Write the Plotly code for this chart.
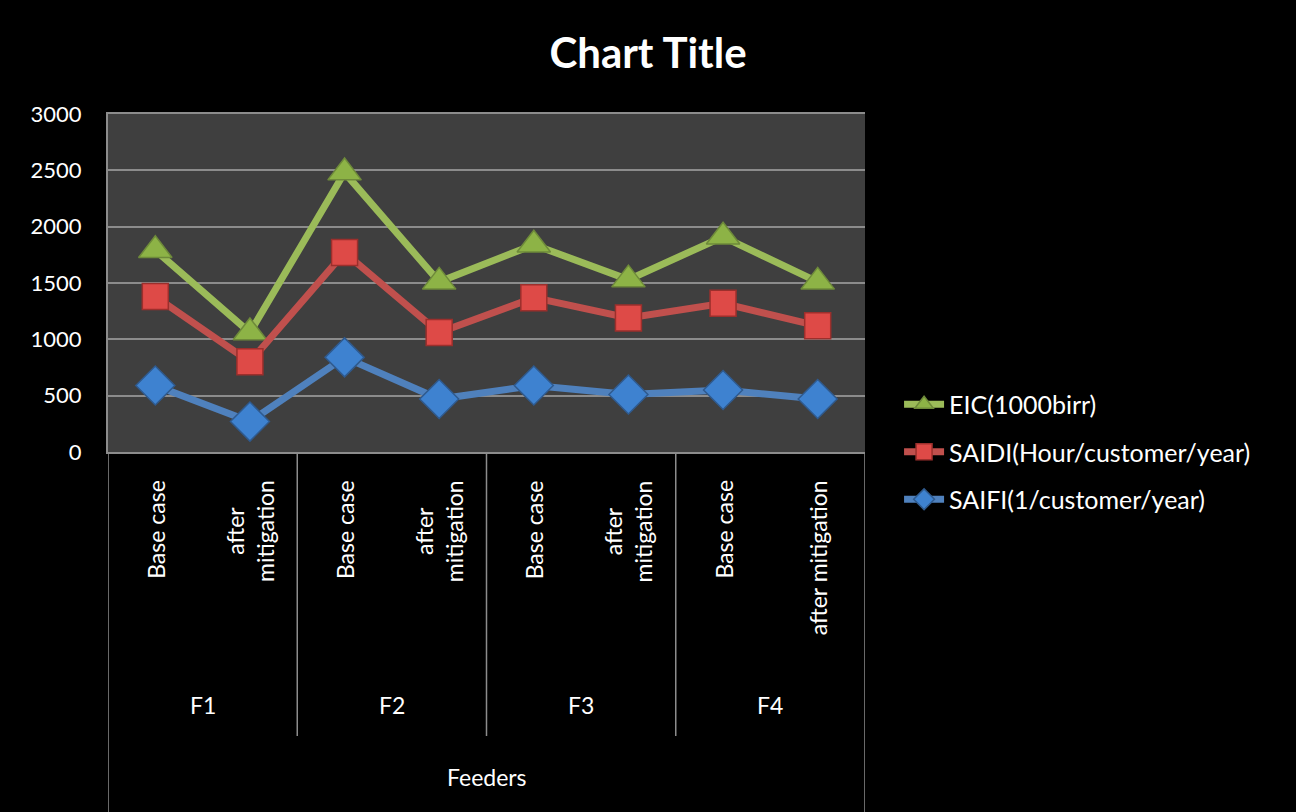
# reliability indices per feeder, base case vs after mitigation

import plotly.graph_objects as go

FEEDERS = ["F1", "F2", "F3", "F4"]
CASES = ["Base case", "after<br>mitigation", "Base case", "after<br>mitigation",
         "Base case", "after<br>mitigation", "Base case", "after mitigation"]
Y_TICKS = [0, 500, 1000, 1500, 2000, 2500, 3000]

EIC = [1790, 1060, 2480, 1510, 1840, 1530, 1910, 1510]
SAIDI = [1380, 800, 1770, 1060, 1370, 1190, 1320, 1120]
SAIFI = [590, 270, 840, 470, 590, 510, 550, 470]

FONT = "Lato"
GRID = "#8C8C8C"

x = list(range(len(CASES)))

fig = go.Figure()


def add_series(name, values, color, marker_color, edge, symbol, size):
    fig.add_trace(go.Scatter(
        x=x, y=values, name=name, legendgroup=name,
        mode="lines+markers",
        line=dict(color=color, width=7),
        marker=dict(symbol=symbol, size=size, color=marker_color,
                    line=dict(color=edge, width=1.5)),
    ))


add_series("EIC(1000birr)", EIC, "#9BBB59", "#8DB346", "#6E8A3A", "triangle-up", 29)
add_series("SAIDI(Hour/customer/year)", SAIDI, "#C0504D", "#DE4A47", "#9C2F2C", "square", 26)
add_series("SAIFI(1/customer/year)", SAIFI, "#4F81BD", "#3E82D0", "#2F5A8E", "diamond", 30)

shapes = []
annotations = []

# category labels under the axis (rotated)
for i, lab in enumerate(CASES):
    annotations.append(dict(
        x=i, y=-0.077, xref="x", yref="paper", text=lab, textangle=-90,
        xanchor="center", yanchor="top", showarrow=False, align="center",
        font=dict(family=FONT, size=23, color="white")))

# feeder group labels and dividers
for g, feeder in enumerate(FEEDERS):
    annotations.append(dict(
        x=2 * g + 0.5, y=-0.749, xref="x", yref="paper", text=feeder,
        yanchor="middle", showarrow=False,
        font=dict(family=FONT, size=23, color="white")))
for b in range(len(FEEDERS) + 1):
    bottom = -1.1 if b in (0, len(FEEDERS)) else -0.84
    shapes.append(dict(type="line", xref="x", yref="paper",
                       x0=2 * b - 0.5, x1=2 * b - 0.5, y0=0, y1=bottom,
                       line=dict(color=GRID, width=1.5)))

annotations.append(dict(
    x=3.5, y=-0.962, xref="x", yref="paper", text="Feeders",
    yanchor="middle", showarrow=False,
    font=dict(family=FONT, size=23, color="white")))

fig.update_layout(
    width=1296, height=812,
    paper_bgcolor="black", plot_bgcolor="#3F3F3F",
    margin=dict(l=108, r=431, t=114, b=360),
    title=dict(text="<b>Chart Title</b>", x=0.5, xanchor="center",
               y=1 - 53 / 812, yanchor="middle",
               font=dict(family=FONT, size=42, color="white")),
    xaxis=dict(range=[-0.5, 7.5], showticklabels=False, showgrid=False,
               zeroline=False, showline=True, linecolor=GRID, linewidth=2,
               mirror=True),
    yaxis=dict(range=[0, 3000], tickvals=Y_TICKS, showgrid=True,
               gridcolor=GRID, gridwidth=2, zeroline=False,
               showline=True, linecolor=GRID, linewidth=2,
               ticks="", ticklabelstandoff=20,
               tickfont=dict(family=FONT, size=22, color="white")),
    legend=dict(x=1.045, y=0.0, xanchor="left", yanchor="middle",
                font=dict(family=FONT, size=25, color="white"),
                bgcolor="rgba(0,0,0,0)", tracegroupgap=12, itemwidth=40),
    shapes=shapes,
    annotations=annotations,
    showlegend=True,
)

fig.write_html(
    "out.html",
    config={"displayModeBar": False},
    post_script="document.body.style.margin='0';document.body.style.background='black';",
)
